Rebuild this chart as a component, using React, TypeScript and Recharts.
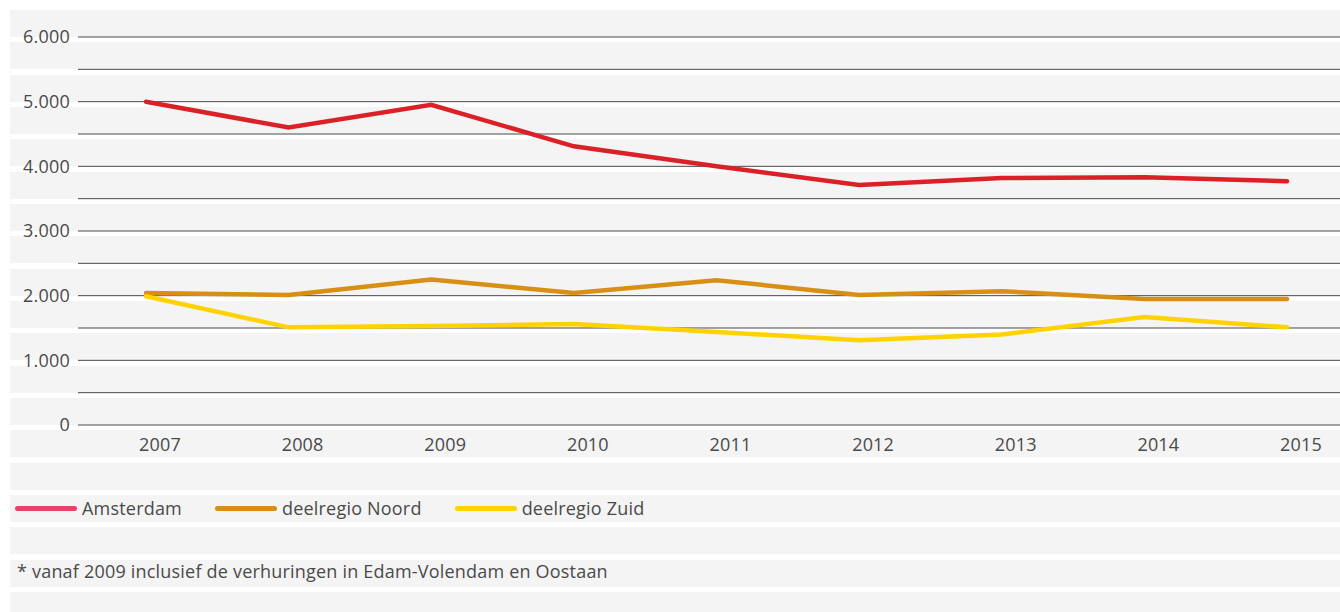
import React from "react";
import { LineChart, Line, XAxis, YAxis, CartesianGrid } from "recharts";

const years = ["2007", "2008", "2009", "2010", "2011", "2012", "2013", "2014", "2015"];
const amsterdam = [5000, 4600, 4950, 4310, 4000, 3710, 3820, 3830, 3770];
const noord = [2040, 2010, 2250, 2040, 2240, 2010, 2070, 1950, 1950];
const zuid = [1990, 1510, 1530, 1560, 1440, 1310, 1400, 1670, 1510];
const yTicks = [0, 500, 1000, 1500, 2000, 2500, 3000, 3500, 4000, 4500, 5000, 5500, 6000];
const footnote = "* vanaf 2009 inclusief de verhuringen in Edam-Volendam en Oostaan";

const series = [
  { key: "amsterdam", name: "Amsterdam", color: "#da2128", legendColor: "#e6436b" },
  { key: "noord", name: "deelregio Noord", color: "#d98f14", legendColor: "#d98f14" },
  { key: "zuid", name: "deelregio Zuid", color: "#ffd200", legendColor: "#ffd200" },
];

const data = years.map((year, i) => ({
  year,
  amsterdam: amsterdam[i],
  noord: noord[i],
  zuid: zuid[i],
}));

const font = "'Open Sans', sans-serif";
const textColor = "#4a4a4a";

// only label the thousands, the half-way ticks just get a gridline
const formatY = (v: number) => (v === 0 ? "0" : v % 1000 === 0 ? `${v / 1000}.000` : "");

export default function App() {
  return (
    <div
      style={{
        position: "absolute",
        left: 0,
        top: 0,
        width: 1340,
        height: 612,
        background: "#fff",
        overflow: "hidden",
        fontFamily: font,
        letterSpacing: "0.2px",
      }}>
      <div
        style={{
          position: "absolute",
          left: 10,
          top: 10,
          right: 0,
          bottom: 0,
          background:
            "repeating-linear-gradient(to bottom, #f4f4f4 0px, #f4f4f4 27px, #ffffff 27px, #ffffff 32.333px)",
        }}
      />
      <div style={{ position: "absolute", left: 0, top: 0 }}>
        <LineChart
          width={1340}
          height={470}
          data={data}
          margin={{ top: 37, right: 0, left: 0, bottom: 0 }}>
          <CartesianGrid vertical={false} stroke="#4a4a4a" strokeWidth={1} />
          <XAxis
            dataKey="year"
            height={45}
            axisLine={false}
            tickLine={false}
            tickMargin={7}
            padding={{ left: 68, right: 53 }}
            tick={{ fill: textColor, fontSize: 18, fontFamily: font, dx: 14 }}
          />
          <YAxis
            width={78}
            domain={[0, 6000]}
            ticks={yTicks}
            interval={0}
            axisLine={false}
            tickLine={false}
            tickFormatter={formatY}
            tick={{ fill: textColor, fontSize: 18, fontFamily: font }}
          />
          {series.map((s) => (
            <Line
              key={s.key}
              type="linear"
              dataKey={s.key}
              name={s.name}
              stroke={s.color}
              strokeWidth={4.5}
              strokeLinecap="round"
              dot={false}
              activeDot={false}
              isAnimationActive={false}
            />
          ))}
        </LineChart>
      </div>
      <div
        style={{
          position: "absolute",
          left: 15,
          top: 496,
          height: 24,
          display: "flex",
          alignItems: "center",
          fontSize: 18,
          color: textColor,
        }}>
        {series.map((s) => (
          <div key={s.key} style={{ display: "flex", alignItems: "center", marginRight: 33 }}>
            <span
              style={{
                display: "inline-block",
                width: 62,
                height: 5,
                borderRadius: 3,
                background: s.legendColor,
                marginRight: 5,
              }}
            />
            <span>{s.name}</span>
          </div>
        ))}
      </div>
      <div
        style={{
          position: "absolute",
          left: 17,
          top: 558,
          height: 26,
          lineHeight: "26px",
          fontSize: 18,
          color: textColor,
        }}>
        {footnote}
      </div>
    </div>
  );
}
